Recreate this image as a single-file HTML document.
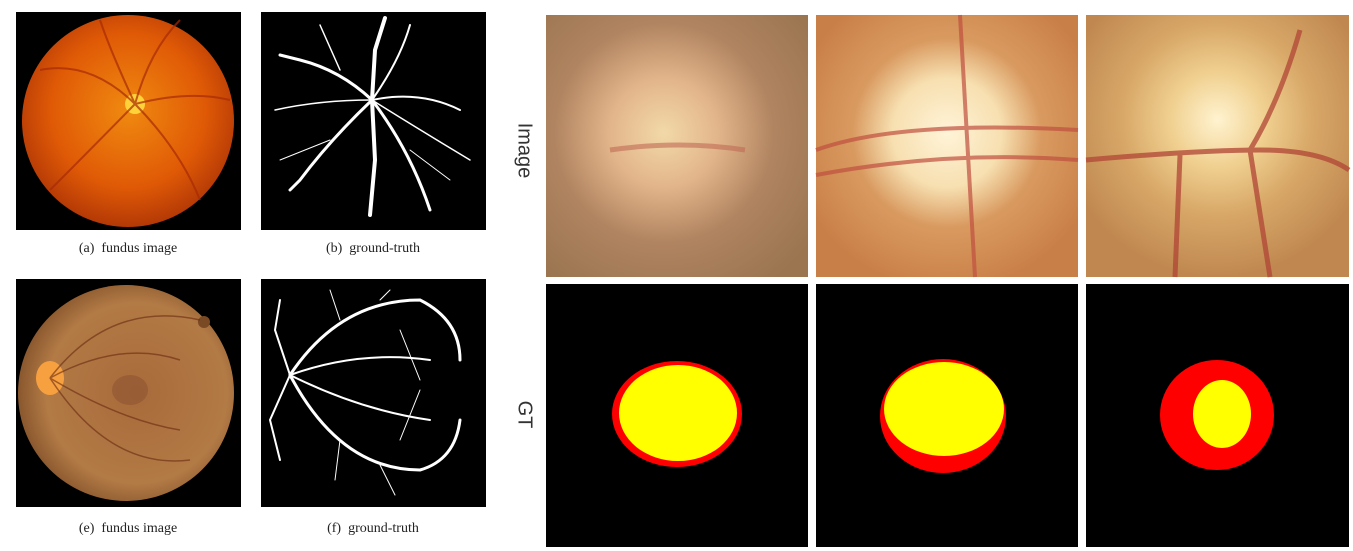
<!DOCTYPE html>
<html><head><meta charset="utf-8"><style>
html,body{margin:0;padding:0;background:#fff;}
body{width:1353px;height:551px;position:relative;overflow:hidden;font-family:"Liberation Serif",serif;}
.cap{position:absolute;font-size:14px;color:#222;text-align:center;width:240px;}
.side{position:absolute;font-family:"Liberation Sans",sans-serif;font-size:20px;color:#333;transform:rotate(90deg);transform-origin:center;}
</style></head><body>
<svg width="1353" height="551" style="position:absolute;left:0;top:0">
<defs>
<radialGradient id="fa" cx="0.5" cy="0.45" r="0.6"><stop offset="0" stop-color="#f08a10"/><stop offset="0.6" stop-color="#e05a06"/><stop offset="1" stop-color="#a83005"/></radialGradient>
<radialGradient id="fe" cx="0.55" cy="0.5" r="0.6"><stop offset="0" stop-color="#a86a3a"/><stop offset="0.7" stop-color="#b27a45"/><stop offset="1" stop-color="#7a4a25"/></radialGradient>
<radialGradient id="i1" cx="0.45" cy="0.45" r="0.7"><stop offset="0" stop-color="#f2d9a8"/><stop offset="0.3" stop-color="#e2b48a"/><stop offset="0.6" stop-color="#b08460"/><stop offset="1" stop-color="#9a7550"/></radialGradient>
<radialGradient id="i2" cx="0.5" cy="0.45" r="0.6"><stop offset="0" stop-color="#fff4d8"/><stop offset="0.35" stop-color="#f7dfb0"/><stop offset="0.6" stop-color="#d99a60"/><stop offset="1" stop-color="#c98048"/></radialGradient>
<radialGradient id="i3" cx="0.5" cy="0.4" r="0.6"><stop offset="0" stop-color="#fff3d0"/><stop offset="0.3" stop-color="#f0d090"/><stop offset="0.6" stop-color="#d8a868"/><stop offset="1" stop-color="#c08850"/></radialGradient>
<clipPath id="ce"><rect x="16" y="279" width="225" height="228"/></clipPath>
</defs>
<g>
<rect x="16" y="12" width="225" height="218" fill="#000"/>
<circle cx="128" cy="121" r="106" fill="url(#fa)"/>
<circle cx="135" cy="104" r="10" fill="#ffd23a"/>
<g stroke="#a82a05" stroke-width="2" fill="none" opacity="0.7">
<path d="M135 104 Q90 60 40 70"/><path d="M135 104 Q150 50 180 20"/><path d="M135 104 Q90 150 50 190"/><path d="M135 104 Q180 150 200 200"/><path d="M135 104 Q110 50 100 20"/><path d="M135 104 Q190 90 230 100"/>
</g></g>
<g>
<rect x="261" y="12" width="225" height="218" fill="#000"/>
<g stroke="#fff" fill="none" stroke-linecap="round">
<path d="M372 100 L375 50 L385 18" stroke-width="4"/><path d="M372 100 Q340 70 300 60 L280 55" stroke-width="3"/>
<path d="M372 100 Q330 140 300 180 L290 190" stroke-width="3"/><path d="M372 100 L375 160 L370 215" stroke-width="4"/>
<path d="M372 100 Q410 150 430 210" stroke-width="3"/><path d="M372 100 Q420 90 460 110" stroke-width="2"/>
<path d="M372 100 Q400 60 410 25" stroke-width="2"/><path d="M372 100 Q320 100 275 110" stroke-width="1.5"/>
<path d="M372 100 Q420 130 470 160" stroke-width="1.5"/><path d="M340 70 L320 25" stroke-width="1.5"/>
<path d="M330 140 L280 160" stroke-width="1"/><path d="M410 150 L450 180" stroke-width="1"/>
</g></g>
<g clip-path="url(#ce)">
<rect x="16" y="279" width="225" height="228" fill="#000"/>
<circle cx="126" cy="393" r="108" fill="url(#fe)"/>
<circle cx="204" cy="322" r="6" fill="#7a4a25"/>
<ellipse cx="50" cy="378" rx="14" ry="17" fill="#f7a040"/>
<ellipse cx="130" cy="390" rx="18" ry="15" fill="#8a5030" opacity="0.5"/>
<g stroke="#6a2a10" stroke-width="1.5" fill="none" opacity="0.6">
<path d="M50 378 Q110 300 200 320"/><path d="M50 378 Q110 470 190 460"/><path d="M50 378 Q120 340 180 360"/><path d="M50 378 Q120 420 180 430"/>
</g></g>
<g>
<rect x="261" y="279" width="225" height="228" fill="#000"/>
<g stroke="#fff" fill="none" stroke-linecap="round">
<path d="M290 375 Q340 300 420 300 Q460 320 460 360" stroke-width="3"/>
<path d="M290 375 Q340 470 420 470 Q455 460 460 420" stroke-width="3"/>
<path d="M290 375 Q360 350 430 360" stroke-width="2"/><path d="M290 375 Q360 410 430 420" stroke-width="2"/>
<path d="M290 375 L275 330 L280 300" stroke-width="2"/><path d="M290 375 L270 420 L280 460" stroke-width="2"/>
<path d="M340 320 L330 290" stroke-width="1"/><path d="M380 300 L390 290" stroke-width="1"/><path d="M340 440 L335 480" stroke-width="1"/>
<path d="M380 465 L395 495" stroke-width="1"/><path d="M400 330 L420 380" stroke-width="1"/><path d="M400 440 L420 390" stroke-width="1"/>
</g></g>
<g><rect x="546" y="15" width="262" height="262" fill="url(#i1)"/>
<path d="M610 150 Q680 140 745 150" stroke="#c06a55" stroke-width="5" fill="none" opacity="0.6"/></g>
<g><rect x="816" y="15" width="262" height="262" fill="url(#i2)"/>
<g stroke="#c05040" stroke-width="4" fill="none" opacity="0.7"><path d="M816 150 Q900 120 1078 130"/><path d="M816 175 Q950 150 1078 160"/><path d="M960 15 L975 277"/></g></g>
<g><rect x="1086" y="15" width="263" height="262" fill="url(#i3)"/>
<g stroke="#b04535" stroke-width="5" fill="none" opacity="0.75"><path d="M1086 160 Q1200 150 1260 150 Q1320 150 1349 170"/><path d="M1180 155 L1175 277"/><path d="M1250 150 L1270 277"/><path d="M1300 30 Q1280 100 1250 150"/></g></g>
<g><rect x="546" y="284" width="262" height="263" fill="#000"/>
<ellipse cx="677" cy="414" rx="65" ry="53" fill="#ff0000"/><ellipse cx="678" cy="413" rx="59" ry="48" fill="#ffff00"/></g>
<g><rect x="816" y="284" width="262" height="263" fill="#000"/>
<ellipse cx="943" cy="416" rx="63" ry="57" fill="#ff0000"/><ellipse cx="944" cy="409" rx="60" ry="47" fill="#ffff00"/></g>
<g><rect x="1086" y="284" width="263" height="263" fill="#000"/>
<ellipse cx="1217" cy="415" rx="57" ry="55" fill="#ff0000"/><ellipse cx="1222" cy="414" rx="29" ry="34" fill="#ffff00"/></g>
</svg>
<div class="cap" style="left:8px;top:241px">(a)&nbsp; fundus image</div>
<div class="cap" style="left:253px;top:241px">(b)&nbsp; ground-truth</div>
<div class="cap" style="left:8px;top:521px">(e)&nbsp; fundus image</div>
<div class="cap" style="left:253px;top:521px">(f)&nbsp; ground-truth</div>
<div class="side" style="left:494px;top:139px;width:60px;text-align:center">Image</div>
<div class="side" style="left:494px;top:403px;width:60px;text-align:center">GT</div>
</body></html>
